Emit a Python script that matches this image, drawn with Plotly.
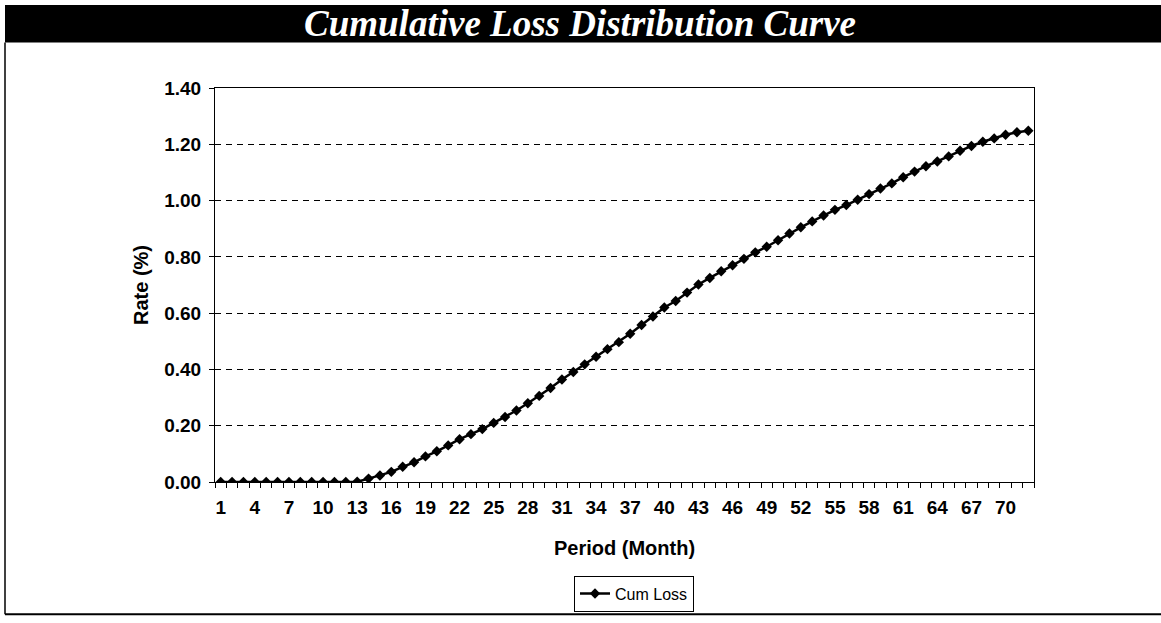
import plotly.graph_objects as go

periods = list(range(1, 73))
cum_loss = [0.000, 0.000, 0.000, 0.000, 0.000, 0.000, 0.000, 0.000, 0.000, 0.000,
            0.000, 0.000, 0.001, 0.012, 0.023, 0.036, 0.054, 0.070, 0.091, 0.109,
            0.130, 0.152, 0.170, 0.188, 0.210, 0.231, 0.254, 0.280, 0.306, 0.334,
            0.364, 0.391, 0.418, 0.445, 0.472, 0.497, 0.527, 0.558, 0.588, 0.620,
            0.643, 0.673, 0.702, 0.725, 0.749, 0.770, 0.793, 0.816, 0.836, 0.859,
            0.883, 0.905, 0.926, 0.947, 0.967, 0.984, 1.003, 1.023, 1.043, 1.061,
            1.083, 1.103, 1.122, 1.139, 1.157, 1.177, 1.194, 1.209, 1.221, 1.234,
            1.243, 1.248]
x_tick_labels = [str(v) for v in range(1, 73, 3)]
y_tick_vals = [0.0, 0.2, 0.4, 0.6, 0.8, 1.0, 1.2, 1.4]

W, H = 1161, 623
L, R, T, B = 215, 1034, 88, 487  # plot area in pixels
pw, ph = R - L, B - T

def px(x):
    return (x - L) / pw

def py(y):
    return (B - y) / ph

SANS = "Liberation Sans, Arial, sans-serif"

fig = go.Figure()
fig.add_trace(go.Scatter(
    x=periods, y=cum_loss, mode="lines+markers", name="Cum Loss",
    line=dict(color="black", width=2.5),
    marker=dict(symbol="diamond", size=8, color="black"),
))

fig.update_layout(
    width=W, height=H,
    margin=dict(l=L, r=W - R, t=T, b=H - B, pad=0),
    paper_bgcolor="white", plot_bgcolor="white",
    font=dict(family=SANS, color="black"),
    showlegend=True,
    legend=dict(
        orientation="h", x=px(634), xanchor="center", y=py(600), yanchor="middle",
        bordercolor="black", borderwidth=1, bgcolor="white",
        font=dict(size=16, family=SANS),
        itemwidth=30,
    ),
    xaxis=dict(
        range=[0.5, 72.5], tickmode="array",
        tickvals=list(range(1, 73, 3)), ticktext=x_tick_labels,
        ticks="", showgrid=False, zeroline=False,
        showline=True, linecolor="black", linewidth=1, mirror=True,
        tickfont=dict(size=19, family=SANS, weight="bold"),
        ticklabelstandoff=8,
        minor=dict(ticks="outside", ticklen=5, tickcolor="black", tick0=0.5, dtick=1, showgrid=False),
        title=dict(text="<b>Period (Month)</b>", font=dict(size=20), standoff=24),
        fixedrange=True,
    ),
    yaxis=dict(
        range=[0, 1.4], tickmode="array", tickvals=y_tick_vals,
        tickformat=".2f", ticks="outside", ticklen=5, tickcolor="black",
        showgrid=True, gridcolor="black", gridwidth=1, griddash="6px,5px",
        zeroline=False,
        showline=True, linecolor="black", linewidth=1, mirror=True,
        tickfont=dict(size=19, family=SANS, weight="bold"),
        ticklabelstandoff=4,
        title=dict(text="<b>Rate (%)</b>", font=dict(size=20), standoff=10),
        fixedrange=True,
    ),
    shapes=[
        dict(type="rect", xref="paper", yref="paper",
             x0=px(5), x1=px(1161), y0=py(42), y1=py(4),
             fillcolor="black", line=dict(width=0), layer="above"),
        dict(type="line", xref="paper", yref="paper",
             x0=px(5), x1=px(5), y0=py(42), y1=py(621),
             line=dict(color="black", width=1.5)),
        dict(type="line", xref="paper", yref="paper",
             x0=px(5), x1=px(1161), y0=py(621), y1=py(621),
             line=dict(color="black", width=2)),
    ],
    annotations=[
        dict(text="<b><i>Cumulative Loss Distribution Curve</i></b>",
             xref="paper", yref="paper", x=px(580), y=py(23),
             xanchor="center", yanchor="middle", showarrow=False,
             font=dict(family="Liberation Serif, Times New Roman, serif", size=37, color="white")),
    ],
)

fig.write_html(
    "out.html",
    config={"displayModeBar": False},
    post_script="document.body.style.margin='0';document.body.style.padding='0';",
)
